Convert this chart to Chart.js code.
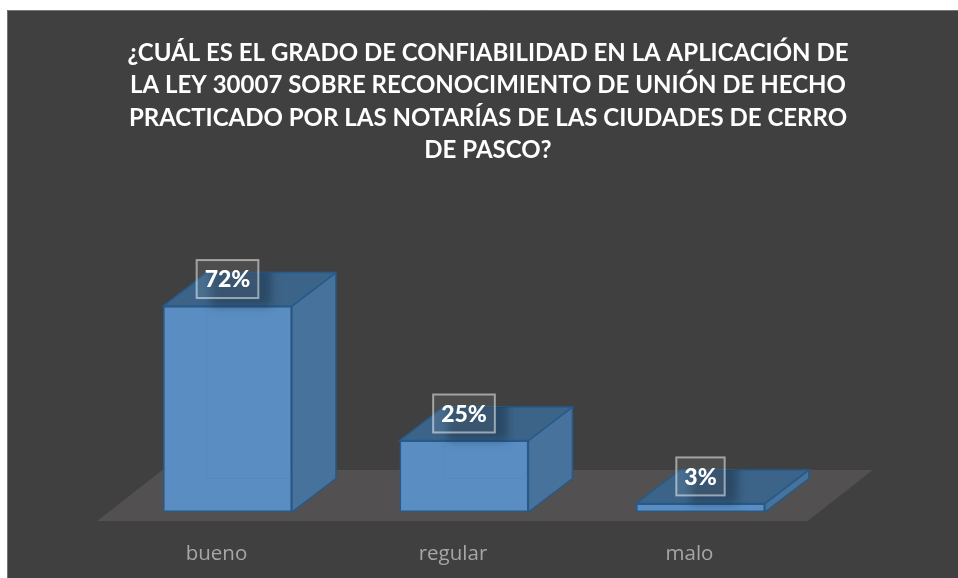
<!DOCTYPE html>
<html lang="es">
<head>
<meta charset="utf-8">
<title>Grado de confiabilidad</title>
<script src="https://cdn.jsdelivr.net/npm/chart.js@4"></script>
<style>
  html, body { margin: 0; background: #fff; }
  canvas { display: block; }
</style>
</head>
<body>
<canvas id="chart" width="958" height="578"></canvas>
<script>
const categories = ['bueno', 'regular', 'malo'];
const percentages = [72, 25, 3];
const titleLines = [
  '¿CUÁL ES EL GRADO DE CONFIABILIDAD EN LA APLICACIÓN DE',
  'LA LEY 30007 SOBRE RECONOCIMIENTO DE UNIÓN DE HECHO',
  'PRACTICADO POR LAS NOTARÍAS DE LAS CIUDADES DE CERRO',
  'DE PASCO?'
];

const DEPTH_X = 44, DEPTH_Y = -33.5;
const EDGE = '#265a8a';

function poly(ctx, pts, fill, stroke) {
  ctx.beginPath();
  pts.forEach((p, i) => i ? ctx.lineTo(p[0], p[1]) : ctx.moveTo(p[0], p[1]));
  ctx.closePath();
  if (fill) { ctx.fillStyle = fill; ctx.fill(); }
  if (stroke) { ctx.strokeStyle = stroke; ctx.lineWidth = 1.5; ctx.stroke(); }
}

// panel + floor + the 3d faces behind the library's bars
const panel3d = {
  id: 'panel3d',
  afterLayout(chart) {
    // title is centred a little right of the canvas middle
    chart.titleBlock.left = 0;
    chart.titleBlock.right = 976;
  },
  beforeDraw(chart) {
    const ctx = chart.ctx;
    ctx.save();
    ctx.fillStyle = '#fff';
    ctx.fillRect(0, 0, 958, 578);
    ctx.fillStyle = '#404040';
    ctx.fillRect(7, 10, 951, 568);
    ctx.strokeStyle = '#757575';
    ctx.lineWidth = 1;
    ctx.beginPath();
    ctx.moveTo(7.5, 578);
    ctx.lineTo(7.5, 10.5);
    ctx.lineTo(958, 10.5);
    ctx.stroke();
    ctx.restore();
  },
  beforeDatasetsDraw(chart) {
    const ctx = chart.ctx, a = chart.chartArea;
    ctx.save();
    // floor
    poly(ctx, [
      [a.left - 12, a.bottom + 9],
      [a.left + 53, a.bottom - 42],
      [a.right + 54, a.bottom - 42],
      [a.right - 11, a.bottom + 9]
    ], '#525050');
    chart.getDatasetMeta(0).data.forEach(bar => {
      const l = bar.x - bar.width / 2, r = bar.x + bar.width / 2;
      const t = bar.y, b = bar.base;
      poly(ctx, [[r, t], [r + DEPTH_X, t + DEPTH_Y], [r + DEPTH_X, b + DEPTH_Y], [r, b]], '#47729c', EDGE);
      poly(ctx, [[l, t], [l + DEPTH_X, t + DEPTH_Y], [r + DEPTH_X, t + DEPTH_Y], [r, t]], '#3c6488', EDGE);
    });
    ctx.restore();
  },
  afterDatasetsDraw(chart) {
    const ctx = chart.ctx;
    const meta = chart.getDatasetMeta(0);
    ctx.save();
    meta.data.forEach((bar, i) => {
      const l = bar.x - bar.width / 2, r = bar.x + bar.width / 2;
      const t = bar.y, b = bar.base;
      // back edges showing through the front face
      if (t < b + DEPTH_Y) {
        ctx.strokeStyle = 'rgba(74,136,200,.55)';
        ctx.lineWidth = 1;
        ctx.beginPath();
        ctx.moveTo(l + 2, b - 2);
        ctx.lineTo(l + DEPTH_X, b + DEPTH_Y);
        ctx.lineTo(r - 1, b + DEPTH_Y);
        ctx.moveTo(l + DEPTH_X, b + DEPTH_Y);
        ctx.lineTo(l + DEPTH_X, t + 1);
        ctx.stroke();
      }
      // label
      const text = percentages[i] + '%';
      ctx.font = '900 23px Lato';
      const w = ctx.measureText(text).width + 16;
      const h = 38;
      const cy = t - 27;
      const bx = bar.x - w / 2, by = cy - h / 2;

      // soft shadow falling on the bar
      ctx.save();
      ctx.beginPath();
      ctx.moveTo(l, b);
      ctx.lineTo(l, t);
      ctx.lineTo(l + DEPTH_X, t + DEPTH_Y);
      ctx.lineTo(r + DEPTH_X, t + DEPTH_Y);
      ctx.lineTo(r, t);
      ctx.lineTo(r, b);
      ctx.closePath();
      ctx.clip();
      ctx.filter = 'blur(5px)';
      ctx.fillStyle = 'rgba(20,40,60,.45)';
      ctx.fillRect(bx + 14, by + 6, w - 1, h + 2);
      ctx.restore();

      ctx.fillStyle = 'rgba(255,255,255,.07)';
      ctx.fillRect(bx, by, w, h);
      ctx.strokeStyle = 'rgba(255,255,255,.5)';
      ctx.lineWidth = 2;
      ctx.strokeRect(bx, by, w, h);
      ctx.fillStyle = '#fff';
      ctx.textAlign = 'center';
      ctx.textBaseline = 'middle';
      ctx.fillText(text, bar.x, cy + 1);
    });
    ctx.restore();
  }
};

new Chart(document.getElementById('chart'), {
  type: 'bar',
  data: {
    labels: categories,
    datasets: [{
      data: percentages,
      backgroundColor: '#5a8ec3',
      borderColor: EDGE,
      borderWidth: 1.5,
      borderSkipped: false,
      barPercentage: 0.545,
      categoryPercentage: 1
    }]
  },
  options: {
    responsive: false,
    animation: false,
    layout: { padding: { left: 109.25, right: 139.25 } },
    plugins: {
      legend: { display: false },
      tooltip: { enabled: false },
      title: {
        display: true,
        text: titleLines,
        color: '#fff',
        font: { family: 'Lato', size: 24, weight: '700', lineHeight: 1.354 },
        padding: { top: 37, bottom: 59 }
      }
    },
    scales: {
      x: {
        grid: { display: false },
        border: { display: false },
        ticks: { color: '#a6a6a6', font: { family: 'Open Sans', size: 20.5 }, padding: 22, labelOffset: -11, maxRotation: 0 },
        afterFit: s => { s.height = 66; }
      },
      y: { display: false, min: 0, max: 100 }
    }
  },
  plugins: [panel3d]
});
</script>
</body>
</html>
